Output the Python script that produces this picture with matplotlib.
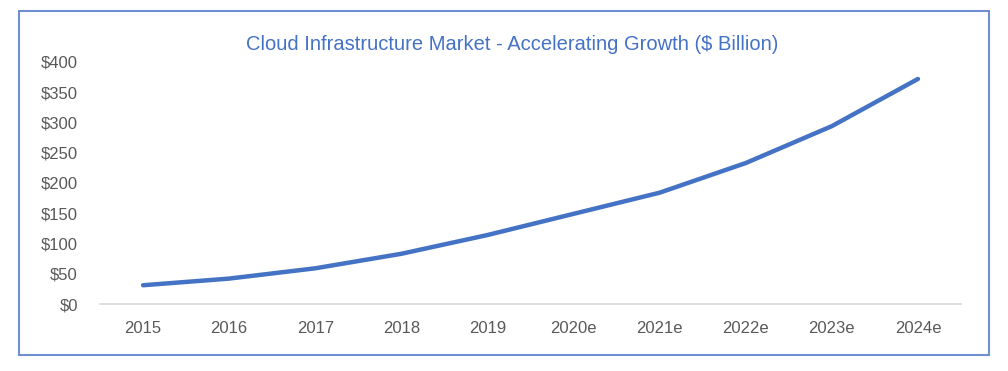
import matplotlib
matplotlib.use("Agg")
from matplotlib import pyplot as plt
from matplotlib.patches import Rectangle

# market size, $ billion
years = ["2015", "2016", "2017", "2018", "2019",
         "2020e", "2021e", "2022e", "2023e", "2024e"]
market = [31, 42, 59, 83, 114, 149, 184, 233, 294, 372]
yticks = [0, 50, 100, 150, 200, 250, 300, 350, 400]

blue = "#4472C4"
grey = "#595959"

plt.rcParams["font.family"] = ["Liberation Sans", "DejaVu Sans"]

fig = plt.figure(figsize=(10.08, 3.71), dpi=100)
ax = fig.add_axes([100 / 1008, 1 - 304 / 371, 861 / 1008, 242 / 371])

x = list(range(len(years)))
ax.plot(x, market, color=blue, lw=3.2, solid_capstyle="round", solid_joinstyle="round")

ax.set_xlim(-0.5, len(years) - 0.5)
ax.set_ylim(0, 400)
ax.set_xticks(x)
ax.set_xticklabels(years)
ax.set_yticks(yticks)
ax.set_yticklabels(["$%d" % v for v in yticks])
ax.tick_params(axis="both", length=0, labelsize=12, colors=grey)
ax.tick_params(axis="y", pad=16)
ax.tick_params(axis="x", pad=12)

for side in ["top", "right", "left"]:
    ax.spines[side].set_visible(False)
ax.spines["bottom"].set_color("#D9D9D9")
ax.spines["bottom"].set_linewidth(1.2)

fig.text(512 / 1008, 1 - 45 / 371,
         "Cloud Infrastructure Market - Accelerating Growth ($ Billion)",
         ha="center", va="center", color=blue, fontsize=14.5)

# chart border
fig.patches.append(Rectangle((19 / 1008, 1 - 355 / 371), 970 / 1008, 344 / 371,
                             transform=fig.transFigure, fill=False,
                             edgecolor="#6E8FD2", lw=1.5))

fig.savefig("out.png", dpi=100)
